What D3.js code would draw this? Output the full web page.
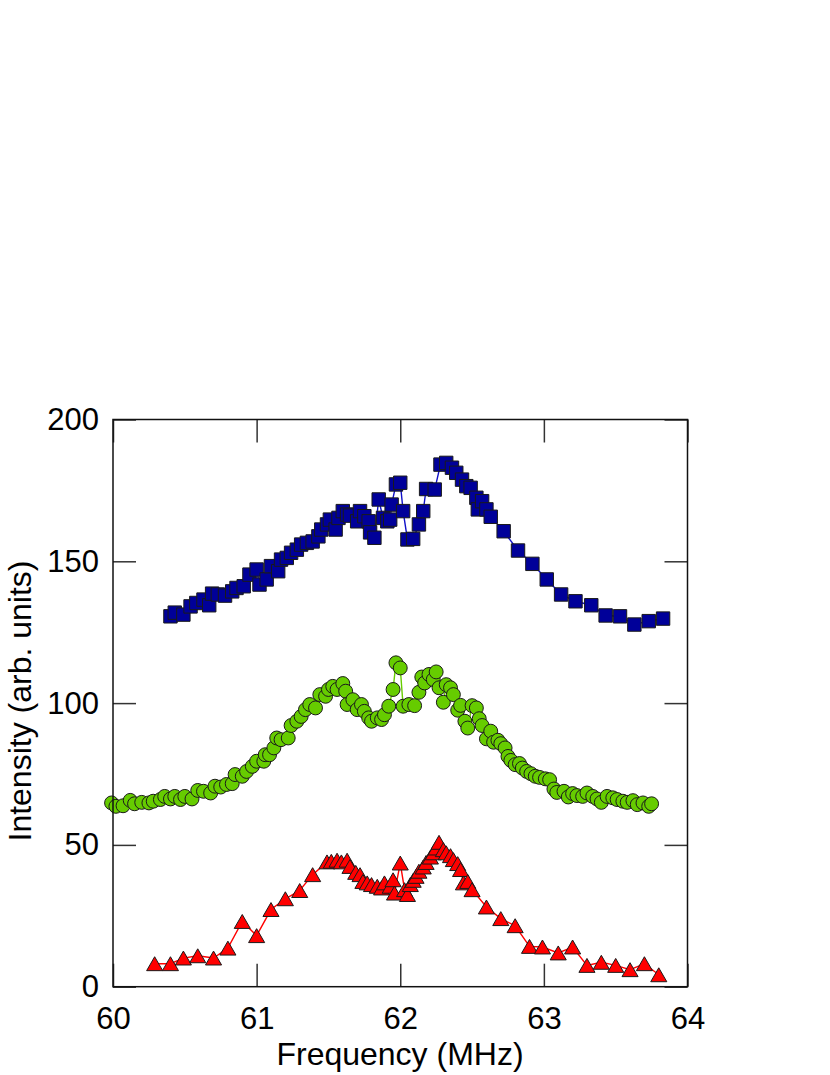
<!DOCTYPE html>
<html>
<head>
<meta charset="utf-8">
<script src="https://d3js.org/d3.v7.min.js"></script>
<style>
  body { margin: 0; background: #fff; }
  text { font-family: "Liberation Sans", Arial, Helvetica, sans-serif; }
</style>
</head>
<body>
<div id="chart"></div>
<script>
// blue squares (top trace)
var blueFreq = [60.40,60.43,60.49,60.54,60.58,60.63,60.67,60.69,60.73,60.78,60.83,60.86,60.91,60.95,61.00,61.02,61.07,61.10,61.15,61.17,
  61.21,61.24,61.28,61.31,61.35,61.39,61.43,61.45,61.49,61.51,61.55,61.57,61.60,61.63,61.65,61.70,61.72,61.75,61.78,61.79,
  61.82,61.85,61.88,61.91,61.93,61.94,61.97,62.00,62.02,62.05,62.09,62.13,62.16,62.18,62.24,62.28,62.32,62.36,62.39,62.43,
  62.46,62.49,62.53,62.54,62.57,62.60,62.63,62.72,62.82,62.92,63.02,63.12,63.22,63.33,63.43,63.53,63.63,63.73,63.83];
var blueVal = [130.6,131.9,131.2,134.1,135.3,136.5,134.5,138.6,138.3,137.9,139.4,140.6,141.2,145.3,147.1,141.8,143.6,148.3,146.5,150.6,
  151.2,153.0,154.1,155.9,156.5,157.0,158.8,161.2,163.0,164.7,161.2,165.3,167.7,166.5,166.1,164.1,167.7,165.9,164.1,160.2,
  158.3,171.8,165.3,164.1,164.7,170.0,177.1,177.7,167.7,157.7,157.9,163.0,167.7,175.5,175.3,184.1,184.7,183.0,181.2,178.8,
  176.5,175.9,172.4,168.3,171.2,168.3,165.7,160.6,153.8,149.1,143.6,138.3,135.9,134.5,130.9,130.6,127.7,128.9,129.8];

// green circles (middle trace)
var greenFreq = [59.99,60.02,60.07,60.12,60.15,60.20,60.25,60.28,60.33,60.36,60.40,60.43,60.47,60.50,60.55,60.59,60.63,60.68,60.71,60.75,
  60.79,60.83,60.85,60.90,60.93,60.97,61.00,61.05,61.06,61.09,61.12,61.14,61.17,61.22,61.24,61.28,61.31,61.34,61.37,61.41,
  61.44,61.48,61.50,61.53,61.56,61.60,61.62,61.63,61.67,61.70,61.73,61.75,61.78,61.80,61.84,61.87,61.89,61.92,61.95,61.97,
  62.00,62.02,62.06,62.10,62.13,62.15,62.17,62.20,62.23,62.25,62.27,62.30,62.32,62.35,62.37,62.40,62.42,62.45,62.47,62.50,
  62.53,62.55,62.57,62.60,62.63,62.65,62.68,62.70,62.73,62.75,62.77,62.80,62.83,62.85,62.88,62.91,62.94,62.97,63.01,63.04,
  63.07,63.09,63.14,63.17,63.20,63.23,63.27,63.30,63.34,63.37,63.40,63.44,63.48,63.51,63.55,63.58,63.62,63.65,63.69,63.73,63.75];
var greenVal = [64.8,63.6,63.8,65.7,64.5,65.0,64.8,65.4,66.0,67.1,66.2,67.1,66.0,67.1,66.2,69.2,68.9,68.3,70.7,70.4,
  71.3,71.6,74.8,74.2,75.9,77.7,79.5,79.5,81.8,81.8,84.2,87.7,87.1,87.7,92.1,93.6,95.3,97.7,99.5,98.3,
  103.0,102.4,104.8,105.9,104.8,106.9,104.2,99.5,101.2,97.7,99.5,97.1,94.8,93.6,94.8,94.2,95.9,98.9,104.8,114.2,
  112.4,98.9,99.5,99.1,103.8,109.2,107.1,110.1,108.3,111.0,105.4,100.3,106.5,105.4,103.0,97.5,99.2,93.6,91.2,99.1,
  98.3,94.5,92.1,87.4,90.1,86.2,86.9,85.7,84.2,81.2,79.8,78.3,78.7,77.1,75.9,75.1,74.2,73.8,73.3,73.0,
  69.7,68.5,68.9,66.9,68.1,67.4,67.1,68.3,67.1,66.2,65.0,67.1,66.6,66.0,65.4,65.0,65.6,64.2,64.8,63.6,64.5];

// red triangles (bottom trace)
var redFreq = [60.29,60.40,60.49,60.59,60.70,60.80,60.90,61.00,61.10,61.20,61.30,61.39,61.49,61.52,61.56,61.59,61.63,61.65,61.69,61.72,
  61.74,61.77,61.80,61.84,61.87,61.89,61.93,61.95,61.96,62.00,62.03,62.05,62.07,62.09,62.11,62.13,62.16,62.18,62.21,62.23,
  62.25,62.27,62.30,62.32,62.35,62.37,62.40,62.42,62.44,62.47,62.50,62.60,62.70,62.80,62.90,62.99,63.10,63.20,63.30,63.40,
  63.50,63.60,63.70,63.80];
var redVal = [8.1,8.1,10.1,10.9,10.1,13.6,23.0,18.0,27.2,31.0,33.9,39.5,44.0,44.2,44.6,44.0,44.6,42.4,40.3,39.5,
  37.1,36.6,36.0,35.4,34.8,36.6,35.4,37.7,33.0,43.6,34.2,32.5,36.0,37.5,38.9,40.7,42.2,43.8,45.7,47.2,
  48.9,50.9,48.3,47.2,46.2,44.8,43.4,41.3,36.6,37.1,34.2,28.1,24.0,21.5,14.2,14.0,11.9,14.0,7.5,8.6,
  7.5,6.0,8.1,4.2];

var xTicks = [60, 61, 62, 63, 64];
var yTicks = [0, 50, 100, 150, 200];

(function() {
var width = 830, height = 1075;
var plotLeft = 113, plotRight = 687.5, plotTop = 419.5, plotBottom = 986.7;

var svg = d3.select("#chart").append("svg")
  .attr("width", width)
  .attr("height", height);

var x = d3.scaleLinear().domain([60, 64]).range([plotLeft, plotRight]);
var y = d3.scaleLinear().domain([0, 200]).range([plotBottom, plotTop]);

function pairs(fs, vs) {
  return fs.map(function(f, i) { return {f: f, v: vs[i]}; });
}

// dy moves the triangle so its box (not its centroid) sits on the point
var series = [
  {data: pairs(blueFreq, blueVal), fill: "#000099", line: "#1010c8", shape: d3.symbolSquare, size: 180, dy: 0},
  {data: pairs(greenFreq, greenVal), fill: "#66cc00", line: "#66cc00", shape: d3.symbolCircle, size: 152, dy: 0},
  {data: pairs(redFreq, redVal), fill: "#ff0000", line: "#ff0000", shape: d3.symbolTriangle, size: 112, dy: 2.3}
];

var line = d3.line()
  .x(function(d) { return x(d.f); })
  .y(function(d) { return y(d.v); });

series.forEach(function(s) {
  svg.append("path")
    .datum(s.data)
    .attr("d", line)
    .attr("fill", "none")
    .attr("stroke", s.line)
    .attr("stroke-width", 1.4);

  svg.append("g").selectAll("path")
    .data(s.data)
    .enter().append("path")
    .attr("d", d3.symbol().type(s.shape).size(s.size))
    .attr("transform", function(d) { return "translate(" + x(d.f) + "," + (y(d.v) + s.dy) + ")"; })
    .attr("fill", s.fill)
    .attr("stroke", "#1a1a1a")
    .attr("stroke-width", 1);
});

// axes, ticks pointing inward on all four sides
var xb = svg.append("g")
  .attr("transform", "translate(0," + plotBottom + ")")
  .call(d3.axisBottom(x).tickValues(xTicks).tickFormat(d3.format("d"))
    .tickSizeInner(-23).tickSizeOuter(0).tickPadding(20));
var xt = svg.append("g")
  .attr("transform", "translate(0," + plotTop + ")")
  .call(d3.axisTop(x).tickValues(xTicks).tickFormat("")
    .tickSizeInner(-23).tickSizeOuter(0));
var yl = svg.append("g")
  .attr("transform", "translate(" + plotLeft + ",0)")
  .call(d3.axisLeft(y).tickValues(yTicks).tickFormat(d3.format("d"))
    .tickSizeInner(-23).tickSizeOuter(0).tickPadding(14));
var yr = svg.append("g")
  .attr("transform", "translate(" + plotRight + ",0)")
  .call(d3.axisRight(y).tickValues(yTicks).tickFormat("")
    .tickSizeInner(-23).tickSizeOuter(0));

[xb, xt, yl, yr].forEach(function(g) {
  g.select(".domain").remove();
  g.selectAll(".tick line").attr("stroke", "#333").attr("stroke-width", 1.5);
  g.selectAll(".tick text")
    .attr("fill", "#000")
    .style("font-size", "31px")
    .style("font-family", "'Liberation Sans', Arial, Helvetica, sans-serif");
});

svg.append("rect")
  .attr("x", plotLeft).attr("y", plotTop)
  .attr("width", plotRight - plotLeft).attr("height", plotBottom - plotTop)
  .attr("fill", "none")
  .attr("stroke", "#111")
  .attr("stroke-width", 1.5);

svg.append("text")
  .attr("x", 400)
  .attr("y", 1065)
  .attr("text-anchor", "middle")
  .style("font-size", "32px")
  .text("Frequency (MHz)");

svg.append("text")
  .attr("transform", "translate(31,701) rotate(-90)")
  .attr("text-anchor", "middle")
  .style("font-size", "32px")
  .text("Intensity (arb. units)");
})();
</script>
</body>
</html>
